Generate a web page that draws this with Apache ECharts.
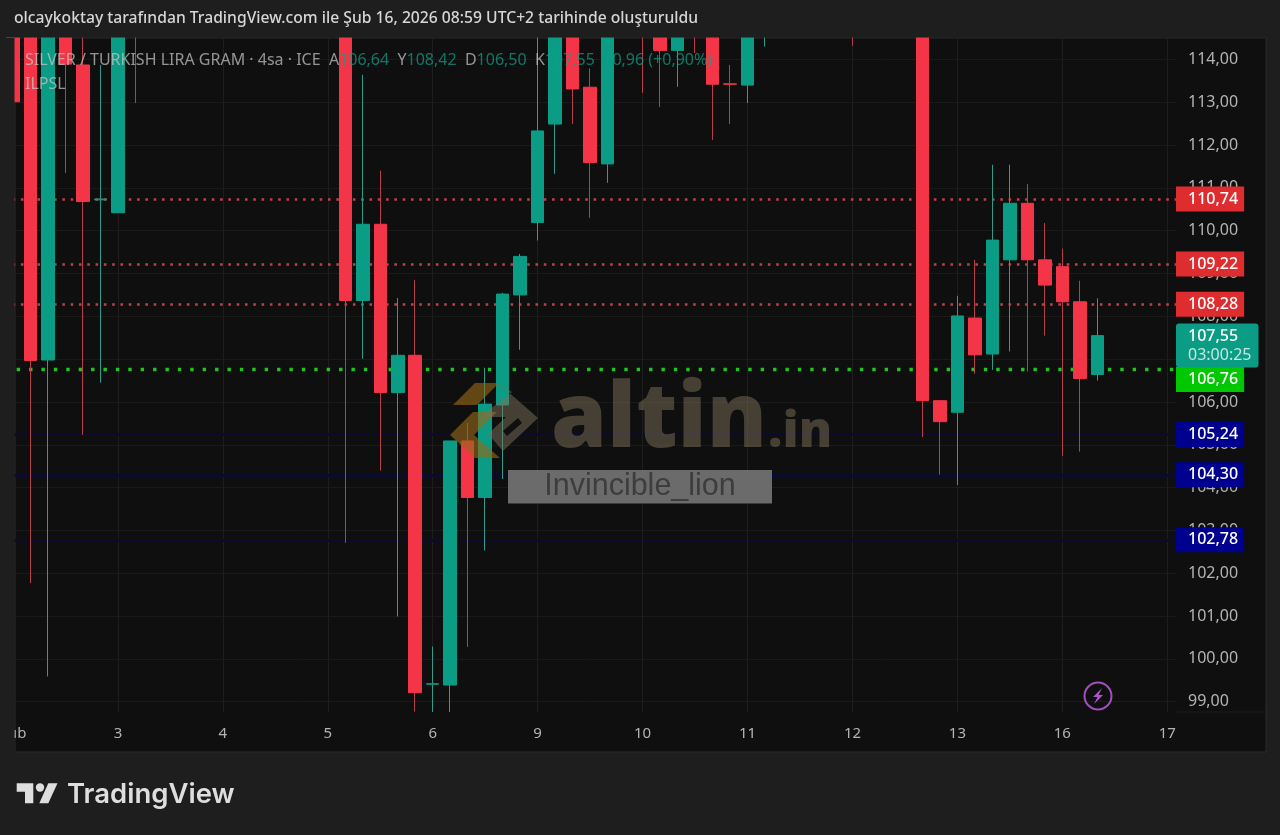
<!DOCTYPE html>
<html>
<head>
<meta charset="utf-8">
<title>SILVER / TURKISH LIRA GRAM</title>
<style>
  html, body { margin: 0; padding: 0; background: #1e1e1e; }
  #chart { width: 1280px; height: 835px; }
</style>
</head>
<body>
<div id="chart"></div>
<script src="https://cdn.jsdelivr.net/npm/echarts@6/dist/echarts.min.js"></script>
<script>
// one entry per 4h bar, null where the bar is above the visible range
const days = [
  "Şub", "", "", "", "", "", "3", "", "", "", "", "", "4", "", "", "", "", "",
  "5", "", "", "", "", "", "6", "", "", "", "", "", "9", "", "", "", "", "",
  "10", "", "", "", "", "", "11", "", "", "", "", "", "12", "", "", "", "", "",
  "13", "", "", "", "", "", "16", "", "", "", "", "", "17",
];
const opens = [
  115.6, 115.2, 106.98, 115.3, 113.87, 110.72, 110.42, 115.6, null, null, null, null,
  null, null, null, null, null, null, null, 115.1, 108.37, 110.15, 106.22, 107.09,
  99.41, 99.39, 105.09, 103.77, 105.93, 108.5, 110.19, 112.49, 115.3, 113.35, 111.56, null,
  115.2, 115.0, 114.21, 115.1, 115.0, 113.43, 113.4, 114.8, null, null, null, null,
  115.2, null, null, null, 115.3, 106.03, 105.76, 107.96, 107.12, 109.32, 110.64, 109.32,
  109.16, 108.34, 106.64, null, null, null, null,
];
const closes = [
  113.01, 106.97, 115.4, 113.89, 110.68, 110.74, 115.2, 115.2, null, null, null, null,
  null, null, null, null, null, null, null, 108.37, 110.15, 106.22, 107.09, 99.21,
  99.42, 105.09, 103.77, 105.95, 108.52, 109.4, 112.33, 115.5, 113.31, 111.59, 115.1, null,
  114.9, 114.21, 114.9, 114.8, 113.42, 113.42, 115.0, 115.1, null, null, null, null,
  114.9, null, null, null, 106.03, 105.54, 108.01, 107.1, 109.78, 110.64, 109.32, 108.73,
  108.34, 106.55, 107.55, null, null, null, null,
];
const lows = [
  113.01, 101.77, 99.59, 111.35, 105.23, 106.45, 110.42, 112.98, null, null, null, null,
  null, null, null, null, null, null, null, 102.71, 107.01, 104.4, 100.99, 98.77,
  98.76, 98.76, 100.28, 102.53, 104.2, 107.22, 109.77, 111.33, 112.49, 110.3, 111.12, null,
  113.22, 112.89, 113.36, 114.15, 112.12, 112.49, 112.98, 114.3, null, null, null, null,
  114.32, null, null, null, 105.18, 104.3, 104.06, 106.66, 106.75, 107.18, 106.71, 107.55,
  104.74, 104.84, 106.5, null, null, null, null,
];
const highs = [
  116.0, 115.6, 115.8, 115.5, 115.0, 113.87, 115.5, 115.9, null, null, null, null,
  null, null, null, null, null, null, null, 115.4, 113.64, 111.4, 108.43, 108.85,
  100.29, 105.09, 105.51, 106.8, 108.55, 109.46, 114.9, 115.8, 115.6, 113.79, 115.4, null,
  115.4, 115.3, 115.2, 115.3, 115.3, 113.87, 115.2, 115.3, null, null, null, null,
  115.4, null, null, null, 115.6, 106.03, 108.48, 109.32, 111.54, 111.54, 111.09, 110.18,
  109.58, 108.83, 108.42, null, null, null, null,
];
const priceTicks = [99, 100, 101, 102, 103, 104, 105, 106, 107, 108, 109, 110, 111, 112, 113, 114];
const redLevels = [110.74, 109.22, 108.28];
const greenLevels = [106.76];
const navyLevels = [105.24, 104.3, 102.78];
const lastPrice = 107.55;
const countdown = "03:00:25";

const fontUi = "'Noto Sans', sans-serif";
const upColor = "#0a9c84";
const downColor = "#f43548";

function priceText(v) {
  return v.toFixed(2).replace(".", ",");
}

// price tag on the scale plus the dotted line
function levelItem(value, lineColor, dash, lineWidth, tagColor, offsetY) {
  return {
    yAxis: value,
    lineStyle: { color: lineColor, type: dash, width: lineWidth },
    label: {
      show: true,
      position: "end",
      distance: 0,
      formatter: priceText(value),
      color: "#ffffff",
      fontFamily: fontUi,
      fontWeight: 500,
      fontSize: 16,
      lineHeight: 17,
      backgroundColor: tagColor,
      padding: [5, 6, 3, 12],
      offset: [0, offsetY],
    },
  };
}

const levelData = [
  ...redLevels.map((v) => levelItem(v, "#c0404a", [2.6, 5.7], 2.6, "#de2c2f", 0)),
  ...navyLevels.map((v) => levelItem(v, "#0a0a3a", [6, 2], 3, "#00008f", 0)),
  ...greenLevels.map((v) => levelItem(v, "#22c422", [3.4, 9], 3.4, "#00c800", 10)),
  {
    yAxis: lastPrice,
    lineStyle: { color: "rgba(0,0,0,0)", width: 0 },
    label: {
      show: true,
      position: "end",
      distance: 0,
      formatter: "{a|" + priceText(lastPrice) + "}\n{b|" + countdown + "}",
      rich: {
        a: { color: "#ffffff", fontFamily: fontUi, fontWeight: 500, fontSize: 16, lineHeight: 19 },
        b: { color: "#c4e8e0", fontFamily: fontUi, fontSize: 16, lineHeight: 19 },
      },
      backgroundColor: upColor,
      borderRadius: 3,
      padding: [3, 7, 3, 12],
      offset: [0, 10],
    },
  },
];

// wick series and body series are separate, the wicks are dimmer than the bodies
const wickData = days.map((d, i) =>
  opens[i] === null ? ["-", "-", "-", "-"] : [opens[i], closes[i], lows[i], highs[i]]
);
const bodyData = days.map((d, i) =>
  opens[i] === null
    ? ["-", "-", "-", "-"]
    : [opens[i], closes[i], Math.min(opens[i], closes[i]), Math.max(opens[i], closes[i])]
);

const chart = echarts.init(document.getElementById("chart"), null, { renderer: "canvas" });

const watermark = "rgba(125,112,90,0.5)";
const logoGold = "rgba(150,105,25,0.62)";

chart.setOption({
  animation: false,
  backgroundColor: "#1e1e1e",
  grid: { left: 4.26, right: 104, top: 38, bottom: 123, outerBoundsMode: "none" },
  xAxis: {
    type: "category",
    data: days,
    axisLine: { show: false },
    axisTick: { show: false },
    axisLabel: {
      interval: (i, v) => v !== "",
      color: "#b4b4b4",
      fontFamily: fontUi,
      fontSize: 15,
      margin: 14,
      hideOverlap: false,
    },
    splitLine: {
      show: true,
      alignWithLabel: true,
      interval: (i, v) => v !== "",
      lineStyle: { color: "#1e1e1e", width: 1 },
    },
  },
  yAxis: {
    type: "value",
    position: "right",
    min: 98.76,
    max: 114.5,
    axisLine: { show: false },
    axisTick: { show: false, customValues: priceTicks },
    axisLabel: {
      customValues: priceTicks,
      formatter: (v) => priceText(v),
      color: "#b4b4b4",
      fontFamily: fontUi,
      fontSize: 16,
      margin: 12,
      padding: [2, 0, 0, 0],
    },
    splitLine: { show: true, lineStyle: { color: "#1a1a1a", width: 1 } },
  },
  series: [
    {
      name: "levels",
      type: "line",
      data: [],
      z: 1,
      silent: true,
      markLine: { symbol: "none", silent: true, animation: false, data: levelData },
    },
    {
      name: "wicks",
      type: "candlestick",
      data: wickData,
      barWidth: 1,
      z: 6,
      silent: true,
      itemStyle: {
        color: "#2f9c8a",
        color0: "#b5404c",
        borderColor: "#2f9c8a",
        borderColor0: "#b5404c",
        borderWidth: 1,
      },
    },
    {
      name: "bodies",
      type: "candlestick",
      data: bodyData,
      barWidth: 13,
      z: 7,
      silent: true,
      itemStyle: {
        color: upColor,
        color0: downColor,
        borderColor: upColor,
        borderColor0: downColor,
        borderWidth: 1,
      },
    },
  ],
  graphic: [
    // pane behind the plot
    {
      type: "rect",
      z: -10,
      silent: true,
      shape: { x: 15, y: 38, width: 1251, height: 714 },
      style: { fill: "#0f0f0f", stroke: "#2a2a2a", lineWidth: 1 },
    },
    {
      type: "line",
      z: -9,
      silent: true,
      shape: { x1: 1176, y1: 712, x2: 1266, y2: 712 },
      style: { stroke: "#1c1c1c", lineWidth: 1 },
    },
    // candles are not cut at the grid edge, so cover what sticks out above and to the left
    {
      type: "rect",
      z: 50,
      silent: true,
      shape: { x: 0, y: 38, width: 14.5, height: 714 },
      style: { fill: "#1e1e1e" },
    },
    {
      type: "rect",
      z: 50,
      silent: true,
      shape: { x: 0, y: 0, width: 1280, height: 37.5 },
      style: { fill: "#1e1e1e" },
    },
    {
      type: "text",
      z: 60,
      silent: true,
      x: 14,
      y: 11,
      style: {
        text: "olcaykoktay tarafından TradingView.com ile Şub 16, 2026 08:59 UTC+2 tarihinde oluşturuldu",
        fill: "#d6d6d6",
        font: "500 15.7px " + fontUi,
      },
    },
    {
      type: "text",
      z: 60,
      silent: true,
      x: 25,
      y: 52,
      style: {
        text:
          "{l|SILVER / TURKISH LIRA GRAM · 4sa · ICE  A}{v|106,64}{l|  Y}{v|108,42}{l|  D}{v|106,50}{l|  K}{v|107,55}{v|  +0,96 (+0,90%)}",
        rich: {
          l: { fill: "rgba(200,200,200,0.72)", font: "16px " + fontUi },
          v: { fill: "rgba(16,160,135,0.72)", font: "16px " + fontUi },
        },
      },
    },
    {
      type: "text",
      z: 60,
      silent: true,
      x: 25,
      y: 76,
      style: { text: "ILPSL", fill: "rgba(200,200,200,0.72)", font: "16px " + fontUi },
    },
    // altin.in watermark
    {
      type: "polygon",
      z: 40,
      silent: true,
      shape: { points: [[453, 405], [475, 383], [499, 383], [477, 405]] },
      style: { fill: logoGold },
    },
    {
      type: "polygon",
      z: 40,
      silent: true,
      shape: { points: [[450, 435], [473, 412], [497, 412], [474, 435], [500, 458], [475, 458]] },
      style: { fill: logoGold },
    },
    {
      type: "polygon",
      z: 40,
      silent: true,
      shape: {
        points: [[497, 382], [538, 418], [503, 451], [488, 434], [506, 417], [480, 417], [512, 392]],
      },
      style: { fill: watermark },
    },
    {
      type: "polygon",
      z: 41,
      silent: true,
      shape: { points: [[503, 431], [518, 418], [522, 423], [507, 436]] },
      style: { fill: "#101010" },
    },
    {
      type: "text",
      z: 40,
      silent: true,
      x: 551,
      y: 376,
      style: { text: "altin", fill: watermark, font: "800 90px 'Open Sans', sans-serif" },
    },
    {
      type: "text",
      z: 40,
      silent: true,
      x: 768,
      y: 408,
      style: { text: ".in", fill: watermark, font: "800 50px 'Open Sans', sans-serif" },
    },
    {
      type: "rect",
      z: 42,
      silent: true,
      shape: { x: 508, y: 470, width: 264, height: 33.5 },
      style: { fill: "#6b6b6b" },
    },
    {
      type: "text",
      z: 43,
      silent: true,
      x: 640,
      y: 487,
      style: {
        text: "Invincible_lion",
        fill: "#3d3d3d",
        font: "30.5px 'Liberation Sans', sans-serif",
        align: "center",
        verticalAlign: "middle",
      },
    },
    // bolt marker
    {
      type: "circle",
      z: 40,
      silent: true,
      shape: { cx: 1098, cy: 696, r: 13.5 },
      style: { fill: "none", stroke: "#a24fbe", lineWidth: 2 },
    },
    {
      type: "polygon",
      z: 40,
      silent: true,
      shape: {
        points: [[1102, 688], [1093, 697], [1097.5, 697], [1094, 704], [1103, 695], [1098.5, 695]],
      },
      style: { fill: "#b153d0" },
    },
    // TradingView footer
    {
      type: "polygon",
      z: 40,
      silent: true,
      shape: {
        points: [[16.7, 783.3], [33.3, 783.3], [33.3, 803.3], [25, 803.3], [25, 791.7], [16.7, 791.7]],
      },
      style: { fill: "#dedede" },
    },
    {
      type: "circle",
      z: 40,
      silent: true,
      shape: { cx: 40, cy: 787.5, r: 4.2 },
      style: { fill: "#dedede" },
    },
    {
      type: "polygon",
      z: 40,
      silent: true,
      shape: { points: [[48.3, 783.3], [57.5, 783.3], [48.3, 803.3], [39.3, 803.3]] },
      style: { fill: "#dedede" },
    },
    {
      type: "text",
      z: 40,
      silent: true,
      x: 67,
      y: 781,
      style: { text: "TradingView", fill: "#dedede", font: "600 27.5px Inter, sans-serif" },
    },
  ],
});
</script>
</body>
</html>
